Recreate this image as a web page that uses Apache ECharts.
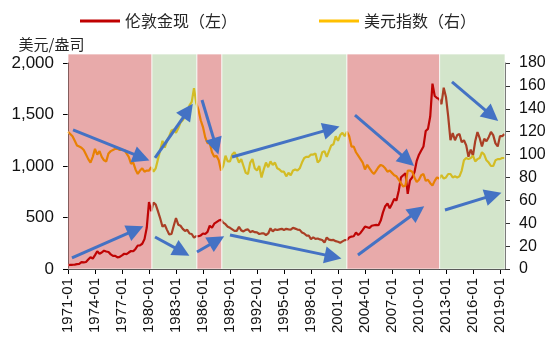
<!DOCTYPE html>
<html>
<head>
<meta charset="utf-8">
<script src="https://cdn.jsdelivr.net/npm/echarts@6/dist/echarts.min.js"></script>
<style>
  html, body { margin: 0; padding: 0; background: #fff; }
  #chart { width: 556px; height: 348px; }
</style>
</head>
<body>
<div id="chart"></div>
<script>
// London spot gold, USD/oz, one value per quarter from 1971 Q1
const goldPrice = [
  38, 40, 41, 43,      47, 50, 66, 64,      68, 92, 115, 100,    135, 172, 148, 160,
  178, 170, 165, 142,  128, 128, 112, 118,  132, 148, 144, 160,  175, 172, 195, 228,
  230, 245, 290, 400,  650, 560, 645, 625,  560, 490, 410, 430,  380, 335, 340, 420,
  495, 430, 420, 390,  370, 380, 345, 340,  305, 320, 318, 326,  345, 340, 360, 420,
  400, 440, 455, 470,  478, 450, 435, 410,  400, 385, 370, 370,  410, 375, 365, 380,
  385, 358, 368, 358,  355, 340, 345, 345,  330, 345, 395, 365,  385, 378, 385, 390,
  378, 390, 385, 383,  400, 392, 383, 380,  355, 345, 325, 325,  290, 308, 292, 296,
  287, 282, 258, 305,  285, 280, 282, 270,  265, 255, 268, 280,  282, 305, 315, 318,
  355, 330, 350, 380,  412, 405, 398, 420,  425, 428, 425, 470,  550, 610, 635, 590,
  632, 680, 665, 760,  890, 910, 930, 730,  860, 890, 940, 1050, 1110, 1150, 1190, 1340,
  1360, 1480, 1800, 1680, 1660, 1650, 1600, 1760, 1670, 1480, 1250, 1320, 1250, 1300, 1310, 1230,
  1250, 1200, 1090, 1160, 1100, 1240, 1330, 1270, 1190, 1265, 1240, 1280, 1330, 1300, 1220, 1190,
  1290, 1290, 1310
];

// US dollar index, one value per quarter from 1971 Q1
const dollarIndex = [
  120, 118, 116, 112,  108, 107, 106, 104,  100, 96, 93, 98,     105, 100, 103, 98,
  95, 94, 101, 103,    104, 105, 105, 104,  104, 104, 101, 98,   92, 93, 87, 83,
  86, 88, 85, 86,      86, 89, 85, 88,      96, 104, 112, 106,   112, 116, 121, 122,
  119, 123, 128, 130,  133, 135, 143, 146,  158, 145, 139, 130,  124, 115, 110, 110,
  102, 98, 99, 95,     86, 90, 99, 94,      94, 100, 102, 98,    93, 96, 90, 84,
  83, 93, 96, 88,      86, 90, 80, 87,      93, 89, 94, 91,      93, 88, 87, 85,
  85, 81, 84, 82,      86, 87, 86, 88,      93, 97, 98, 98,      100, 100, 101, 93,
  95, 102, 103, 98,    103, 108, 109, 116,  112, 117, 119, 116,  120, 116, 107, 107,
  102, 99, 96, 93,     87, 91, 88, 85,      83, 86, 89, 91,      90, 88, 85, 86,
  84, 82, 81, 78,      75, 72, 73, 86,      86, 85, 80, 76,      78, 82, 83, 77,
  78, 75, 73, 77,      80, 79, 82, 79,      80, 83, 83, 80,      81, 80, 81, 86,
  95, 97, 96, 97,      99, 94, 96, 97,      102, 100, 95, 93,    90, 90, 95, 96,
  96, 97, 97
];

const firstYear = 1971;
const lastYear = 2019.56;
const yearTicks = [1971, 1974, 1977, 1980, 1983, 1986, 1989, 1992, 1995, 1998, 2001, 2004, 2007, 2010, 2013, 2016, 2019];

// Policy phases: [start, end, kind]
const phases = [
  [1971, 1980.33, 'tight'],
  [1980.33, 1985.33, 'loose'],
  [1985.33, 1988.1, 'tight'],
  [1988.1, 2002.0, 'loose'],
  [2002.0, 2012.3, 'tight'],
  [2012.3, 2019.56, 'loose']
];

// Trend arrows on the left scale: [fromYear, fromValue, toYear, toValue]
const trendArrows = [
  [1971.56, 1350, 1979.17, 1083],
  [1971.44, 107, 1978.51, 381],
  [1980.67, 1078, 1984.33, 1537],
  [1980.67, 311, 1983.66, 169],
  [1985.89, 1641, 1987.44, 1191],
  [1985.33, 165, 1987.54, 277],
  [1989.22, 1087, 2000.26, 1360],
  [1989.0, 330, 2000.46, 120],
  [2002.89, 1495, 2008.74, 1054],
  [2003.22, 136, 2009.82, 561],
  [2013.67, 1816, 2018.08, 1490],
  [2012.89, 573, 2018.26, 717]
];

const toPairs = arr => arr.map((v, i) => [firstYear + i / 4, v]);

const phaseColor = {
  tight: 'rgba(189, 12, 12, 0.35)',
  loose: 'rgba(129, 181, 106, 0.35)'
};

const cjk = '"Noto Sans CJK SC", sans-serif';
const latin = '"Liberation Sans", Arial, sans-serif';

const chart = echarts.init(document.getElementById('chart'), null, { renderer: 'canvas' });

chart.setOption({
  animation: false,
  backgroundColor: '#ffffff',
  legend: {
    left: 75,
    top: 8,
    itemWidth: 40,
    itemHeight: 3,
    itemGap: 82,
    icon: 'rect',
    textStyle: { fontFamily: cjk, fontSize: 16, color: '#262626' },
    data: ['伦敦金现（左）', '美元指数（右）']
  },
  grid: [
    { left: 68, right: 51, top: 63, bottom: 79 },
    { left: 68, right: 51, top: 54, bottom: 79 }
  ],
  xAxis: [
    {
      type: 'value',
      gridIndex: 0,
      min: firstYear,
      max: lastYear,
      interval: 3,
      splitLine: { show: false },
      axisLine: { lineStyle: { color: '#000', width: 1 } },
      axisTick: { length: 5, lineStyle: { color: '#000' }, customValues: yearTicks },
      axisLabel: {
        rotate: 90,
        margin: 9,
        fontFamily: latin,
        fontSize: 15,
        color: '#111',
        customValues: yearTicks,
        formatter: v => (Number.isInteger(v) ? v + '-01' : '')
      }
    },
    {
      type: 'value',
      gridIndex: 1,
      min: firstYear,
      max: lastYear,
      show: false
    }
  ],
  yAxis: [
    {
      type: 'value',
      gridIndex: 0,
      min: 0,
      max: 2000,
      interval: 500,
      name: '美元/盎司',
      nameLocation: 'end',
      nameGap: 11,
      nameTextStyle: { fontFamily: cjk, fontSize: 15, color: '#262626', align: 'center', padding: [0, 33, 0, 0] },
      splitLine: { show: false },
      axisLine: { show: true, lineStyle: { color: '#000', width: 1 } },
      axisTick: { show: true, length: 5, lineStyle: { color: '#000' } },
      axisLabel: {
        margin: 14,
        fontFamily: latin,
        fontSize: 17,
        color: '#111',
        formatter: v => v.toLocaleString('en-US')
      }
    },
    {
      type: 'value',
      gridIndex: 0,
      position: 'right',
      min: 0,
      max: 180,
      interval: 20,
      splitLine: { show: false },
      axisLine: { show: true, lineStyle: { color: '#333', width: 1 } },
      axisTick: { show: true, length: 5, lineStyle: { color: '#333' } },
      axisLabel: { margin: 14, fontFamily: latin, fontSize: 16, color: '#111' }
    },
    {
      type: 'value',
      gridIndex: 1,
      min: 0,
      max: 1,
      show: false
    }
  ],
  series: [
    {
      name: '伦敦金现（左）',
      type: 'line',
      xAxisIndex: 0,
      yAxisIndex: 0,
      z: 2,
      symbol: 'none',
      color: '#C00000',
      lineStyle: { width: 2.2, color: '#C00000' },
      data: toPairs(goldPrice)
    },
    {
      name: '美元指数（右）',
      type: 'line',
      xAxisIndex: 0,
      yAxisIndex: 1,
      z: 2,
      symbol: 'none',
      color: '#FFC000',
      lineStyle: { width: 2.2, color: '#FFC000' },
      data: toPairs(dollarIndex)
    },
    {
      name: 'phases',
      type: 'line',
      xAxisIndex: 1,
      yAxisIndex: 2,
      z: 3,
      data: [],
      markArea: {
        z: 3,
        silent: true,
        data: phases.map(([s, e, kind]) => [
          { xAxis: s, itemStyle: { color: phaseColor[kind], borderColor: 'rgba(255,255,255,0.7)', borderWidth: 1 } },
          { xAxis: e }
        ])
      }
    },
    {
      name: 'trends',
      type: 'line',
      xAxisIndex: 0,
      yAxisIndex: 0,
      z: 5,
      data: [],
      markLine: {
        z: 6,
        silent: true,
        symbol: ['none', 'triangle'],
        symbolSize: 17,
        label: { show: false },
        itemStyle: { color: '#4472C4' },
        lineStyle: { color: '#4472C4', width: 3, type: 'solid' },
        emphasis: { disabled: true },
        data: trendArrows.map(([x1, y1, x2, y2]) => [
          { coord: [x1, y1] },
          { coord: [x2, y2] }
        ])
      }
    }
  ]
});
</script>
</body>
</html>
